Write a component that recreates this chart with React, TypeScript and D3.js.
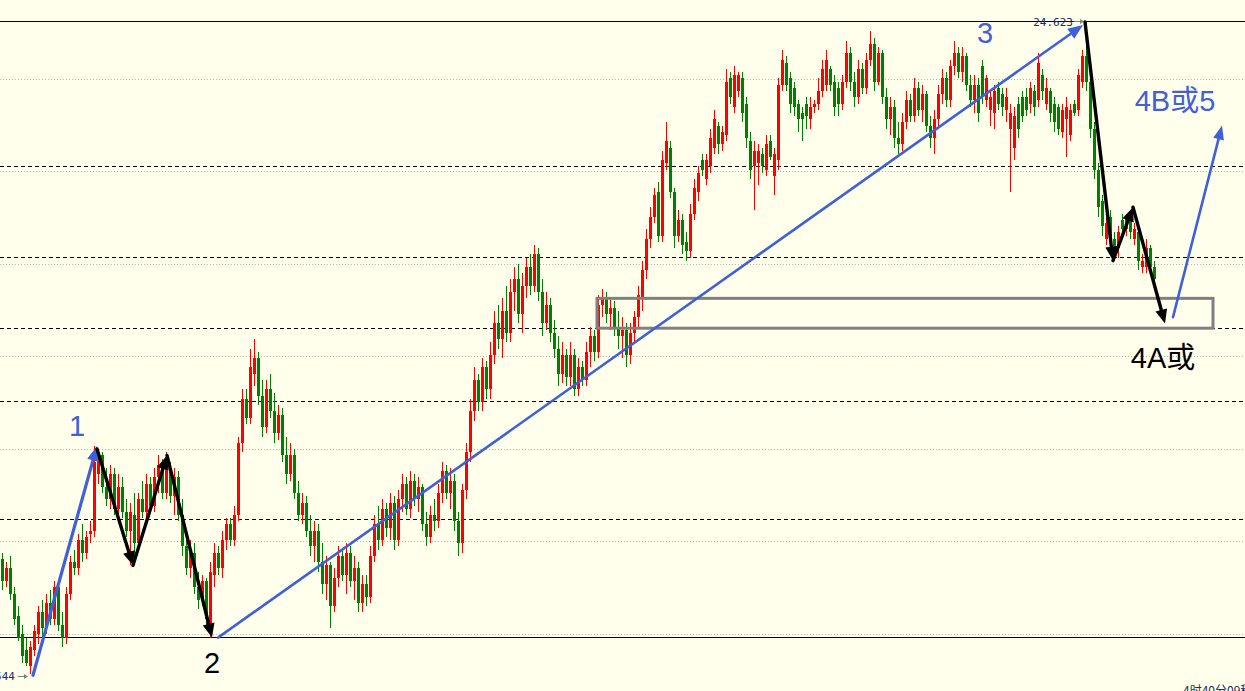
import React from "react";
import * as d3 from "d3";

const W = 1245;
const H = 691;

// [open, high, low, close]
type Candle = [number, number, number, number];
const candles: Candle[] = [
  [22.91,22.93,22.81,22.84],[22.84,22.90,22.82,22.88],[22.88,22.92,22.78,22.80],[22.80,22.82,22.70,22.72],
  [22.73,22.76,22.65,22.66],[22.67,22.70,22.58,22.60],[22.62,22.66,22.57,22.58],[22.57,22.65,22.544,22.63],
  [22.62,22.70,22.60,22.68],[22.67,22.76,22.64,22.74],[22.74,22.78,22.66,22.69],[22.69,22.80,22.67,22.77],
  [22.77,22.81,22.70,22.72],[22.72,22.84,22.70,22.82],[22.82,22.83,22.68,22.70],[22.70,22.74,22.63,22.66],
  [22.66,22.82,22.64,22.80],[22.80,22.92,22.78,22.90],[22.90,22.94,22.86,22.88],[22.88,22.99,22.86,22.97],
  [22.97,23.02,22.90,22.93],[22.93,23.00,22.91,22.98],[22.99,23.03,22.96,23.00],[23.00,23.27,22.98,23.22],
  [23.18,23.26,23.15,23.24],[23.24,23.25,23.12,23.14],[23.14,23.20,23.08,23.10],[23.10,23.21,23.07,23.18],
  [23.18,23.20,23.05,23.07],[23.07,23.18,23.04,23.14],[23.14,23.17,23.04,23.06],[23.06,23.10,22.98,23.00],
  [23.00,23.09,22.89,23.06],[23.05,23.12,22.92,22.96],[22.96,23.12,22.94,23.10],[23.10,23.16,23.04,23.06],
  [23.06,23.18,23.03,23.15],[23.15,23.17,23.06,23.08],[23.08,23.20,23.06,23.17],[23.17,23.24,23.12,23.21],
  [23.21,23.23,23.10,23.12],[23.12,23.25,23.10,23.20],[23.20,23.22,23.09,23.11],[23.11,23.20,23.05,23.17],
  [23.17,23.19,23.03,23.05],[23.05,23.10,22.92,22.95],[22.95,23.00,22.86,22.88],[22.88,22.97,22.85,22.93],
  [22.93,22.96,22.80,22.82],[22.82,22.87,22.75,22.78],[22.78,22.86,22.76,22.84],[22.84,22.85,22.70,22.72],
  [22.70,22.90,22.66,22.87],[22.86,22.96,22.82,22.93],[22.93,22.95,22.86,22.88],[22.88,23.00,22.85,22.97],
  [22.97,23.04,22.94,23.02],[23.02,23.04,22.95,22.97],[22.97,23.08,22.95,23.05],[23.05,23.30,23.03,23.28],
  [23.28,23.45,23.25,23.42],[23.42,23.45,23.34,23.36],[23.36,23.58,23.34,23.52],[23.50,23.61,23.46,23.55],
  [23.55,23.57,23.40,23.43],[23.43,23.48,23.30,23.33],[23.33,23.48,23.31,23.45],[23.45,23.50,23.36,23.38],
  [23.38,23.44,23.28,23.31],[23.31,23.40,23.29,23.37],[23.37,23.39,23.22,23.24],[23.24,23.30,23.15,23.18],
  [23.18,23.28,23.16,23.24],[23.24,23.26,23.10,23.12],[23.12,23.16,23.03,23.05],[23.05,23.12,23.02,23.09],
  [23.09,23.11,22.98,23.00],[23.00,23.05,22.92,22.95],[22.95,23.03,22.90,23.00],[23.00,23.02,22.87,22.90],
  [22.90,22.96,22.80,22.83],[22.83,22.92,22.78,22.89],[22.89,22.90,22.69,22.76],[22.76,22.88,22.74,22.85],
  [22.85,22.95,22.82,22.92],[22.92,22.94,22.84,22.86],[22.86,22.96,22.80,22.93],[22.93,22.95,22.82,22.84],
  [22.84,22.92,22.78,22.88],[22.88,22.90,22.74,22.77],[22.77,22.86,22.74,22.83],[22.83,22.86,22.76,22.79],
  [22.79,22.95,22.77,22.92],[22.92,23.05,22.90,23.02],[23.02,23.08,22.94,22.97],[22.97,23.10,22.95,23.07],
  [23.07,23.09,22.98,23.01],[23.01,23.12,22.97,23.09],[23.09,23.11,22.94,22.97],[22.97,23.13,22.95,23.10],
  [23.10,23.18,23.06,23.15],[23.15,23.17,23.05,23.07],[23.07,23.19,23.04,23.16],[23.16,23.18,23.08,23.10],
  [23.10,23.17,23.06,23.14],[23.14,23.15,23.00,23.02],[23.02,23.06,22.95,22.98],[22.98,23.08,22.96,23.05],
  [23.05,23.10,23.00,23.03],[23.03,23.15,23.01,23.12],[23.12,23.22,23.09,23.19],[23.19,23.21,23.10,23.12],
  [23.12,23.20,23.07,23.16],[23.16,23.18,23.00,23.03],[23.03,23.06,22.92,22.96],[22.96,23.15,22.93,23.13],
  [23.13,23.28,23.10,23.25],[23.25,23.42,23.22,23.38],[23.38,23.52,23.35,23.48],[23.48,23.50,23.38,23.41],
  [23.41,23.55,23.38,23.52],[23.52,23.54,23.42,23.45],[23.45,23.60,23.42,23.56],[23.56,23.70,23.53,23.66],
  [23.66,23.72,23.58,23.61],[23.61,23.74,23.55,23.70],[23.70,23.78,23.60,23.63],[23.63,23.80,23.60,23.76],
  [23.76,23.84,23.70,23.80],[23.80,23.85,23.66,23.69],[23.69,23.82,23.63,23.78],[23.78,23.87,23.74,23.84],
  [23.84,23.88,23.75,23.78],[23.78,23.91,23.76,23.88],[23.88,23.90,23.73,23.76],[23.76,23.80,23.62,23.66],
  [23.66,23.76,23.64,23.72],[23.72,23.74,23.60,23.63],[23.63,23.67,23.55,23.58],[23.58,23.62,23.46,23.50],
  [23.50,23.60,23.47,23.56],[23.56,23.58,23.46,23.49],[23.49,23.60,23.46,23.56],[23.56,23.58,23.43,23.45],
  [23.45,23.55,23.43,23.52],[23.52,23.54,23.46,23.48],[23.48,23.60,23.46,23.57],[23.57,23.65,23.52,23.62],
  [23.62,23.64,23.54,23.57],[23.57,23.75,23.55,23.72],[23.72,23.77,23.68,23.74],[23.74,23.76,23.66,23.69],
  [23.69,23.74,23.64,23.71],[23.71,23.73,23.62,23.65],[23.65,23.70,23.58,23.62],[23.62,23.68,23.55,23.64],
  [23.64,23.66,23.52,23.56],[23.56,23.66,23.53,23.63],[23.63,23.70,23.60,23.68],[23.68,23.78,23.65,23.75],
  [23.74,23.86,23.70,23.83],[23.83,23.96,23.80,23.93],[23.93,24.03,23.90,24.00],[24.00,24.09,23.98,24.07],
  [24.08,24.11,23.92,23.94],[23.94,24.21,23.92,24.18],[24.17,24.30,24.15,24.24],[24.22,24.24,24.06,24.08],
  [24.08,24.09,23.90,23.94],[23.94,24.02,23.92,23.99],[23.99,24.01,23.88,23.91],[23.92,23.95,23.86,23.89],
  [23.89,24.04,23.87,24.01],[24.01,24.12,23.99,24.09],[24.08,24.16,24.05,24.14],[24.18,24.20,24.13,24.15],
  [24.12,24.20,24.10,24.18],[24.16,24.28,24.14,24.25],[24.22,24.34,24.20,24.31],[24.29,24.30,24.20,24.23],
  [24.23,24.29,24.21,24.27],[24.26,24.47,24.24,24.43],[24.44,24.46,24.36,24.38],[24.35,24.48,24.33,24.45],
  [24.40,24.46,24.38,24.45],[24.44,24.46,24.30,24.33],[24.36,24.38,24.22,24.25],[24.24,24.27,24.12,24.15],
  [24.16,24.24,24.02,24.21],[24.17,24.23,24.10,24.21],[24.20,24.22,24.14,24.16],[24.15,24.26,24.13,24.23],
  [24.24,24.26,24.18,24.19],[24.13,24.22,24.07,24.20],[24.18,24.44,24.15,24.42],[24.42,24.53,24.40,24.50],
  [24.49,24.51,24.40,24.42],[24.44,24.46,24.33,24.36],[24.41,24.43,24.32,24.35],[24.36,24.37,24.27,24.31],
  [24.33,24.35,24.24,24.31],[24.36,24.38,24.28,24.32],[24.31,24.38,24.28,24.35],[24.35,24.37,24.33,24.36],
  [24.36,24.44,24.34,24.40],[24.40,24.50,24.38,24.47],[24.42,24.53,24.40,24.50],[24.47,24.48,24.40,24.42],
  [24.43,24.45,24.32,24.35],[24.41,24.43,24.32,24.36],[24.36,24.45,24.34,24.43],[24.43,24.56,24.41,24.52],
  [24.52,24.54,24.40,24.43],[24.43,24.46,24.35,24.38],[24.38,24.50,24.36,24.47],[24.47,24.49,24.39,24.41],
  [24.41,24.52,24.39,24.50],[24.50,24.59,24.48,24.55],[24.55,24.57,24.40,24.43],[24.43,24.54,24.42,24.52],
  [24.52,24.53,24.36,24.38],[24.38,24.41,24.28,24.31],[24.31,24.38,24.26,24.35],[24.35,24.37,24.22,24.25],
  [24.25,24.30,24.20,24.23],[24.23,24.33,24.21,24.30],[24.30,24.40,24.28,24.37],[24.37,24.39,24.30,24.32],
  [24.32,24.44,24.30,24.41],[24.41,24.43,24.32,24.34],[24.34,24.42,24.30,24.39],[24.39,24.40,24.27,24.29],
  [24.29,24.32,24.22,24.25],[24.25,24.34,24.20,24.31],[24.31,24.42,24.29,24.39],[24.39,24.47,24.36,24.44],
  [24.44,24.46,24.35,24.37],[24.37,24.50,24.35,24.48],[24.48,24.56,24.45,24.52],[24.52,24.54,24.44,24.46],
  [24.46,24.54,24.43,24.51],[24.51,24.52,24.40,24.42],[24.42,24.45,24.35,24.37],[24.37,24.45,24.33,24.42],
  [24.42,24.44,24.30,24.33],[24.48,24.50,24.36,24.38],[24.37,24.45,24.35,24.44],[24.34,24.40,24.29,24.38],
  [24.33,24.42,24.28,24.40],[24.41,24.43,24.34,24.36],[24.39,24.41,24.32,24.35],[24.34,24.41,24.30,24.38],
  [24.28,24.36,24.08,24.33],[24.22,24.35,24.18,24.32],[24.36,24.38,24.25,24.28],[24.38,24.40,24.30,24.32],
  [24.38,24.41,24.32,24.34],[24.36,24.43,24.33,24.41],[24.40,24.42,24.32,24.35],[24.37,24.52,24.35,24.49],
  [24.45,24.47,24.37,24.40],[24.36,24.44,24.34,24.41],[24.40,24.41,24.30,24.33],[24.36,24.38,24.27,24.30],
  [24.35,24.36,24.26,24.28],[24.27,24.36,24.25,24.34],[24.31,24.38,24.19,24.35],[24.26,24.36,24.24,24.34],
  [24.36,24.37,24.32,24.33],[24.34,24.47,24.32,24.45],[24.43,24.53,24.41,24.51],[24.51,24.623,24.40,24.43],
  [24.43,24.45,24.25,24.28],[24.28,24.30,24.12,24.15],[24.15,24.17,24.00,24.03],[24.05,24.07,23.94,23.97],
  [23.93,24.00,23.91,23.98],[24.00,24.02,23.90,23.92],[23.93,23.95,23.86,23.88],[23.90,23.97,23.87,23.95],
  [23.99,24.01,23.94,23.96],[23.96,24.01,23.94,24.00],[24.00,24.02,23.93,23.95],[23.93,23.98,23.91,23.96],
  [23.95,23.96,23.83,23.86],[23.84,23.88,23.82,23.86],[23.84,23.93,23.82,23.90],[23.90,23.91,23.82,23.84],
  [23.84,23.86,23.79,23.80],
];

const priceDomain = [22.544, 24.623];
const dottedLevels = [24.438, 24.144, 23.849, 23.555, 23.26, 22.966, 22.671];
const dashedLevels = [24.161, 23.872, 23.646, 23.413, 23.037];
const solidLevels = [24.623, 22.662];

// zone rectangle: [startIndex, endIndex, topPrice, bottomPrice]
const zoneBox = [148.75, 302.75, 23.74, 23.645];

// annotation paths as [index, price]
const wave1Arrow: [number, number][] = [[7.75, 22.54], [23.75, 23.27]];
const wave3Line: [number, number][] = [[54, 22.66], [270.25, 24.61]];
const wave5Arrow: [number, number][] = [[292.75, 23.68], [305, 24.29]];
const leftZigzag: [number, number][] = [[23.75, 23.26], [32.75, 22.89], [41.25, 23.24], [52.5, 22.66]];
const rightZigzag: [number, number][] = [[270.75, 24.62], [277.75, 23.86], [282.75, 24.03], [290.75, 23.66]];

const blueLabels: { text: string; i: number; p: number }[] = [
  { text: "1", i: 18.75, p: 23.302 },
  { text: "3", i: 245.75, p: 24.553 },
  { text: "4B或5", i: 293.25, p: 24.336 },
];
const blackLabels: { text: string; i: number; p: number }[] = [
  { text: "2", i: 52.5, p: 22.547 },
  { text: "4A或", i: 290.25, p: 23.518 },
];
const timerText = "4时40分09秒";

const BLUE = "#3f60d8";
const RED = "#ff0000";
const GREEN = "#008000";
const BG = "#ffffec";

function head(x1: number, y1: number, x2: number, y2: number, len: number, half: number) {
  const a = Math.atan2(y2 - y1, x2 - x1);
  const bx = x2 - len * Math.cos(a);
  const by = y2 - len * Math.sin(a);
  const px = -Math.sin(a);
  const py = Math.cos(a);
  return {
    bx,
    by,
    pts: `${x2},${y2} ${bx + half * px},${by + half * py} ${bx - half * px},${by - half * py}`,
  };
}

export default function App() {
  const x = d3.scaleLinear().domain([0, candles.length - 1]).range([2, 1154]);
  const y = d3.scaleLinear().domain(priceDomain).range([674, 21]);

  const maxIdx = d3.maxIndex(candles, (c) => c[1]);
  const minIdx = d3.minIndex(candles, (c) => c[2]);
  const maxP = candles[maxIdx][1];
  const minP = candles[minIdx][2];

  const arrowSeg = (
    a: [number, number],
    b: [number, number],
    color: string,
    width: number,
    len: number,
    half: number,
    key: string
  ) => {
    const x1 = x(a[0]), y1 = y(a[1]), x2 = x(b[0]), y2 = y(b[1]);
    const h = head(x1, y1, x2, y2, len, half);
    return (
      <g key={key}>
        <line x1={x1} y1={y1} x2={h.bx} y2={h.by} stroke={color} strokeWidth={width} strokeLinecap="round" />
        <polygon points={h.pts} fill={color} />
      </g>
    );
  };

  const labelFont = "'Liberation Sans', Arial, 'Noto Sans CJK SC', sans-serif";

  return (
    <svg
      width={W}
      height={H}
      style={{ position: "fixed", left: 0, top: 0, background: BG }}
      xmlns="http://www.w3.org/2000/svg"
    >
      <rect x={0} y={0} width={W} height={H} fill={BG} />
      {/* dotted grid */}
      {dottedLevels.map((p, k) => (
        <line key={"dt" + k} x1={0} x2={W} y1={Math.round(y(p)) + 0.5} y2={Math.round(y(p)) + 0.5}
          stroke="#b4b4b4" strokeWidth={1} strokeDasharray="1,2" />
      ))}
      {dashedLevels.map((p, k) => (
        <line key={"ds" + k} x1={0} x2={W} y1={Math.round(y(p)) + 0.5} y2={Math.round(y(p)) + 0.5}
          stroke="#000" strokeWidth={1} strokeDasharray="4,3" />
      ))}
      {solidLevels.map((p, k) => (
        <line key={"sl" + k} x1={0} x2={W} y1={Math.round(y(p)) + 0.5} y2={Math.round(y(p)) + 0.5}
          stroke="#000" strokeWidth={1.2} />
      ))}

      {/* candles */}
      <g shapeRendering="crispEdges">
        {candles.map((c, i) => {
          const [o, h, l, cl] = c;
          const cx = Math.round(x(i));
          const col = cl >= o ? RED : GREEN;
          const yt = Math.min(y(o), y(cl));
          const hb = Math.max(1, Math.abs(y(o) - y(cl)));
          return (
            <g key={i}>
              <rect x={cx} y={y(h)} width={1} height={Math.max(1, y(l) - y(h))} fill={col} />
              <rect x={cx - 1} y={yt} width={3} height={hb} fill={col} />
            </g>
          );
        })}
      </g>

      {/* zone box */}
      <rect
        x={x(zoneBox[0])}
        y={y(zoneBox[2])}
        width={x(zoneBox[1]) - x(zoneBox[0])}
        height={y(zoneBox[3]) - y(zoneBox[2])}
        fill="none"
        stroke="#808080"
        strokeWidth={3}
      />

      {/* blue wave lines */}
      {arrowSeg(wave1Arrow[0], wave1Arrow[1], BLUE, 3.2, 15, 6, "w1")}
      {arrowSeg(wave3Line[0], wave3Line[1], BLUE, 2.6, 15, 6, "w3")}
      {arrowSeg(wave5Arrow[0], wave5Arrow[1], BLUE, 2.6, 14, 5.5, "w5")}

      {/* black zigzags */}
      {leftZigzag.slice(1).map((p, k) => arrowSeg(leftZigzag[k], p, "#000", 3.4, 14, 6, "lz" + k))}
      {rightZigzag.slice(1).map((p, k) => arrowSeg(rightZigzag[k], p, "#000", 3.4, 14, 6, "rz" + k))}

      {/* labels */}
      {blueLabels.map((d, k) => (
        <text key={"bl" + k} x={x(d.i)} y={y(d.p)} fill={BLUE} fontSize={29} fontFamily={labelFont} textAnchor="middle">
          {d.text}
        </text>
      ))}
      {blackLabels.map((d, k) => (
        <text key={"kl" + k} x={x(d.i)} y={y(d.p)} fill="#000" fontSize={29} fontFamily={labelFont} textAnchor="middle">
          {d.text}
        </text>
      ))}

      {/* max / min price markers */}
      <text x={x(maxIdx) - 13} y={y(maxP) + 5} fontSize={11} fontFamily="'DejaVu Sans Mono', monospace"
        fill="#1c2c5c" textAnchor="end">{maxP.toFixed(3)}</text>
      <line x1={x(maxIdx) - 12} x2={x(maxIdx) - 4} y1={y(maxP) + 0.5} y2={y(maxP) + 0.5} stroke="#808080" strokeWidth={1} />
      <polygon points={`${x(maxIdx) - 2},${y(maxP) + 0.5} ${x(maxIdx) - 6},${y(maxP) - 2} ${x(maxIdx) - 6},${y(maxP) + 3}`} fill="#808080" />

      <text x={x(minIdx) - 15} y={y(minP) + 6} fontSize={11} fontFamily="'DejaVu Sans Mono', monospace"
        fill="#1c2c5c" textAnchor="end">{minP.toFixed(3)}</text>
      <line x1={x(minIdx) - 12} x2={x(minIdx) - 5} y1={y(minP) + 2.5} y2={y(minP) + 2.5} stroke="#808080" strokeWidth={1} />
      <polygon points={`${x(minIdx) - 2},${y(minP) + 2.5} ${x(minIdx) - 6},${y(minP)} ${x(minIdx) - 6},${y(minP) + 5}`} fill="#808080" />

      <text x={1183} y={695} fontSize={12} fontFamily="'Noto Sans CJK SC', sans-serif" fill="#1c2c5c">
        {timerText}
      </text>
    </svg>
  );
}
